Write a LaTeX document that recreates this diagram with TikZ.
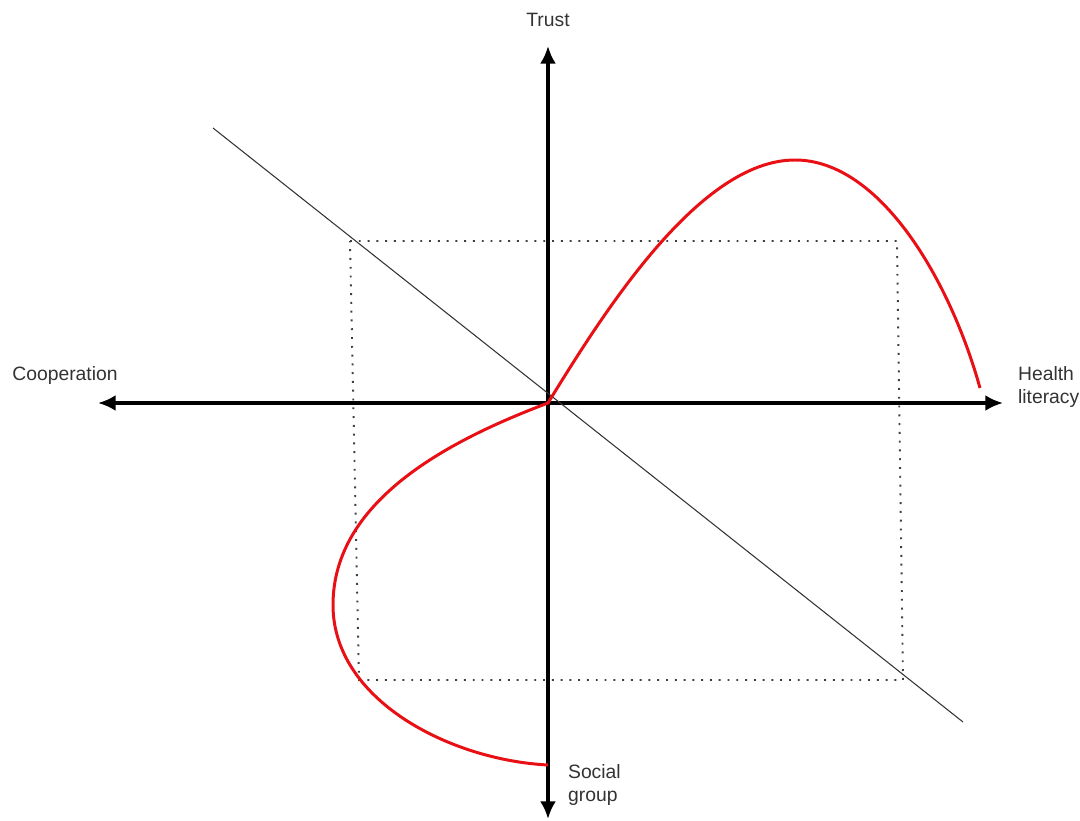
\documentclass[tikz,border=0pt]{standalone}
\usepackage{fontspec}
\setmainfont{Liberation Sans}
\usetikzlibrary{arrows.meta, positioning}
\definecolor{curvered}{RGB}{232, 16, 20}

\begin{document}
\begin{tikzpicture}[x=0.02cm, y=-0.02cm,
  axis/.style={line width=1.9pt, -{Latex[length=10pt, width=9pt]}},
  diag/.style={draw=black!80, line width=0.6pt},
  box/.style={draw=black!75, line width=1.1pt, dash pattern=on 1.1pt off 3.9pt},
  curve/.style={draw=curvered, line width=1.7pt},
  lbl/.style={font=\fontsize{11}{13}\selectfont, text=black!80, align=left, inner sep=1pt}
]
  \useasboundingbox (0,0) rectangle (1080,821);

  % axes
  \coordinate (O) at (548,403);
  \coordinate (top) at (548,46);
  \coordinate (bot) at (548,819);
  \coordinate (lft) at (98,403);
  \coordinate (rgt) at (1003,403);
  \draw[axis] (O) -- (top);
  \draw[axis] (O) -- (bot);
  \draw[axis] (O) -- (lft);
  \draw[axis] (O) -- (rgt);

  % labels
  \node[lbl] (trust) at (548,20) {Trust};
  \node[lbl] (coop) at (65,376) {Cooperation};
  \node[lbl, anchor=west] (health) at (1016,387) {Health\\literacy};
  \node[lbl, anchor=west] (social) at (566,785) {Social\\group};

  % diagonal and dotted frame
  \coordinate (d1) at (213,128);
  \coordinate (d2) at (963,722);
  \draw[diag] (d1) -- (d2);
  \draw[box] (350,241) -- (897,241) -- (903,680) -- (359,680) -- cycle;

  % red curve
  \coordinate (peak) at (795,160);
  \coordinate (tip) at (980,388);
  \coordinate (far) at (333,605);
  \coordinate (tail) at (548,765);
  \draw[curve] (tip) .. controls (950,280) and (880,160) .. (peak)
    .. controls (700,160) and (605,310) .. (O)
    .. controls (450,440) and (333,500) .. (far)
    .. controls (333,700) and (450,760) .. (tail);
\end{tikzpicture}
\end{document}
